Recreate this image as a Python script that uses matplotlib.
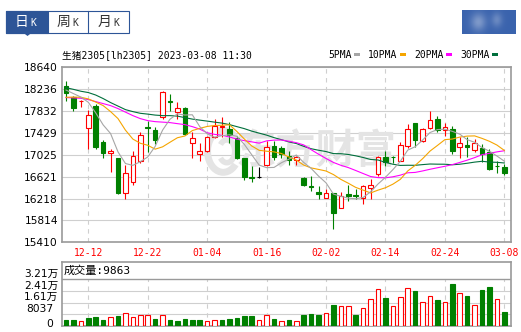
import numpy as np
import matplotlib.pyplot as plt
from matplotlib.patches import Rectangle, Polygon, Arc
from matplotlib.transforms import ScaledTranslation

# daily candles of 生猪2305
date_labels = ['12-12', '12-22', '01-04', '01-16', '02-02', '02-14', '02-24', '03-08']
date_pos = [3, 11, 19, 27, 35, 43, 51, 59]

open_ = [18303, 18087, 18009, 17513, 17933, 17254, 17064, 16958, 16318, 16514,
         16903, 17539, 17484, 17717, 18026, 17809, 17883, 17249, 17040, 17088,
         17360, 17532, 17502, 17336, 16958, 16620, 16607, 16842, 17193, 17143,
         16995, 16934, 16596, 16453, 16337, 16226, 16318, 16052, 16300, 16281,
         16226, 16403, 16670, 16990, 16990, 16916, 17193, 17606, 17286, 17521,
         17687, 17489, 17502, 17162, 17212, 17114, 17151, 17082, 16823, 16805]
high = [18396, 18118, 18039, 17854, 17965, 17299, 17132, 16970, 16842, 17101,
        17452, 17656, 17532, 18211, 18150, 17994, 17902, 17452, 17243, 17378,
        17687, 17717, 17637, 17378, 16971, 16823, 16805, 17286, 17286, 17193,
        17101, 17000, 16607, 16638, 16453, 16392, 16329, 16342, 16466, 16392,
        16472, 16577, 17008, 17101, 17008, 17254, 17595, 17619, 17514, 17841,
        17748, 17606, 17563, 17347, 17347, 17317, 17225, 17132, 16916, 16855]
low = [18013, 17828, 17915, 17132, 17132, 16958, 16699, 16300, 16207, 16472,
       16873, 17069, 17225, 17687, 17841, 17687, 17397, 16958, 16903, 17069,
       17336, 17347, 17243, 16945, 16564, 16514, 16596, 16823, 16934, 16966,
       16842, 16836, 16453, 16361, 16218, 16220, 15663, 16041, 16176, 16218,
       16126, 16218, 16625, 16823, 16866, 16903, 17151, 17175, 17254, 17502,
       17452, 17378, 17040, 16958, 16977, 17069, 16897, 16749, 16688, 16651]
close = [18161, 17891, 18022, 17761, 17162, 17051, 17088, 16329, 16688, 16995,
         17391, 17521, 17304, 18192, 18007, 17883, 17410, 17328, 17101, 17347,
         17563, 17555, 17397, 16958, 16607, 16600, 16607, 17162, 16977, 17040,
         16934, 16990, 16472, 16435, 16310, 16318, 15948, 16262, 16272, 16265,
         16440, 16466, 16990, 16884, 16977, 17206, 17502, 17299, 17502, 17669,
         17484, 17532, 17101, 17243, 17162, 17243, 17040, 16762, 16810, 16681]

ma5 = [18220, 18155, 18090, 17995, 17799, 17577, 17417, 17078, 16864, 16830,
       16898, 16985, 17180, 17481, 17683, 17781, 17759, 17764, 17546, 17414,
       17350, 17380, 17394, 17366, 17218, 17026, 16835, 16788, 16792, 16879,
       16944, 17021, 16883, 16774, 16631, 16508, 16299, 16259, 16225, 16214,
       16238, 16342, 16486, 16610, 16751, 16905, 17112, 17174, 17297, 17436,
       17491, 17497, 17458, 17406, 17304, 17256, 17158, 17090, 17003, 16907]
ma10 = [18087, 18090, 18087, 18057, 17998, 17933, 17822, 17693, 17480, 17315,
        17238, 17201, 17129, 17172, 17257, 17340, 17372, 17472, 17513, 17548,
        17566, 17570, 17579, 17456, 17316, 17188, 17108, 17091, 17079, 17048,
        16985, 16928, 16835, 16783, 16755, 16726, 16660, 16571, 16500, 16423,
        16373, 16321, 16373, 16417, 16483, 16572, 16727, 16830, 16953, 17094,
        17198, 17305, 17316, 17352, 17370, 17374, 17328, 17274, 17205, 17106]
ma20 = [18081, 18076, 18068, 18044, 18007, 17970, 17933, 17878, 17813, 17748,
        17693, 17656, 17637, 17628, 17619, 17600, 17582, 17545, 17499, 17432,
        17402, 17385, 17354, 17314, 17286, 17264, 17240, 17282, 17296, 17298,
        17275, 17249, 17207, 17119, 17035, 16957, 16884, 16831, 16789, 16735,
        16679, 16624, 16604, 16600, 16619, 16649, 16693, 16700, 16727, 16758,
        16786, 16813, 16844, 16884, 16926, 16973, 17027, 17052, 17079, 17100]
ma30 = [18264, 18233, 18198, 18174, 18128, 18063, 17989, 17924, 17859, 17822,
        17791, 17776, 17758, 17748, 17748, 17739, 17711, 17684, 17665, 17647,
        17628, 17610, 17582, 17545, 17508, 17462, 17425, 17388, 17342, 17304,
        17263, 17233, 17181, 17137, 17109, 17085, 17047, 17045, 17031, 17006,
        16975, 16939, 16929, 16885, 16851, 16829, 16832, 16831, 16844, 16855,
        16852, 16851, 16841, 16851, 16869, 16890, 16905, 16891, 16886, 16874]

volume = [4130, 4130, 3440, 5730, 6420, 4130, 5960, 6880, 8720, 5960,
          7570, 7570, 4820, 7570, 4130, 3440, 4590, 4130, 4130, 3440,
          4130, 4130, 4820, 5280, 6880, 6880, 4130, 7570, 4820, 3440,
          4130, 3440, 7570, 8260, 7570, 8720, 14450, 13760, 13760, 7570,
          12160, 18350, 25230, 19260, 13760, 19720, 25920, 24080, 16510, 20410,
          17890, 16510, 28900, 22700, 20640, 14220, 24770, 26830, 18350, 9863]

price_ticks = [15410, 15814, 16218, 16621, 17025, 17429, 17832, 18236, 18640]
vol_ticks = [0, 8037, 16074, 24111, 32148]
vol_labels = ['0', '8037', '1.61万', '2.41万', '3.21万']
ma_names = ['5PMA', '10PMA', '20PMA', '30PMA']

RED = '#ff0000'
GREEN = '#008000'
MA_COLORS = ['#a6a6a6', '#f5a500', '#ff00ff', '#006f3c']
GRID = '#cfcfcf'
BORDER = '#9a9a9a'
WMARK = '#e4e4e4'
MONO = ['DejaVu Sans Mono', 'Noto Sans CJK SC']
SANS = ['DejaVu Sans', 'Noto Sans CJK SC']

W, H = 521, 332
fig = plt.figure(figsize=(W / 100, H / 100), dpi=100)


def px_box(x0, y0, x1, y1):
    return [x0 / W, 1 - y1 / H, (x1 - x0) / W, (y1 - y0) / H]


ax = fig.add_axes(px_box(61.7, 67.3, 510.5, 242.3))
axv = fig.add_axes(px_box(61.7, 262.3, 510.5, 326))

x = np.arange(len(close))
o = np.array(open_)
c = np.array(close)
ccol = [RED if cc > oo else (GREEN if cc < oo else 'black') for oo, cc in zip(o, c)]
cfill = ['white' if cc > oo else col for oo, cc, col in zip(o, c, ccol)]

# price panel
ax.vlines(x, low, high, colors=ccol, lw=0.8, zorder=3)
ax.bar(x, np.abs(c - o), bottom=np.minimum(o, c), width=0.62, color=cfill,
       edgecolor=ccol, lw=0.8, zorder=4)
for ma, col in zip([ma30, ma20, ma10, ma5], MA_COLORS[::-1]):
    ax.plot(x, ma, color=col, lw=0.8, zorder=5)

# faint watermark behind the candles
ax.text(0.566, 0.515, '东方财富', transform=ax.transAxes, fontsize=29,
        color=WMARK, family='Noto Sans CJK SC', fontweight='bold',
        ha='center', va='center', zorder=1)
ax.add_patch(Arc((0.36, 0.52), 0.07, 0.24, theta1=70, theta2=290,
                 transform=ax.transAxes, color=WMARK, lw=5, zorder=1))
ax.add_patch(Arc((0.368, 0.52), 0.035, 0.13, theta1=250, theta2=110,
                 transform=ax.transAxes, color=WMARK, lw=4, zorder=1))

ax.set_xlim(-0.58, 59.83)
ax.set_ylim(15410, 18640)
ax.set_yticks(price_ticks)
ax.set_yticklabels([str(t) for t in price_ticks], fontsize=7.7, family='DejaVu Sans')
ax.set_xticks(date_pos)
ax.set_xticklabels(date_labels, fontsize=7, family='DejaVu Sans Mono', color=RED)
ax.tick_params(length=0, pad=2.6)
ax.tick_params(axis='x', pad=4)
ax.grid(axis='y', color=GRID, lw=0.8, zorder=0)
ax.grid(axis='x', color=GRID, lw=0.8, ls=(0, (4, 4)), zorder=0)
ax.set_axisbelow(True)
for s in ax.spines.values():
    s.set_color(BORDER)
    s.set_linewidth(1.2)

# volume panel
vcol = [GREEN if c[0] < o[0] else RED] + [RED if b > a else GREEN for a, b in zip(c[:-1], c[1:])]
vfill = ['white' if col == RED else col for col in vcol]
axv.bar(x, volume, width=0.62, color=vfill, edgecolor=vcol, lw=0.8, zorder=3)
axv.set_xlim(-0.58, 59.83)
axv.set_ylim(0, 43850)
axv.set_xticks([])
axv.set_yticks([])
axv.hlines(vol_ticks[1:4], -1, 61, colors=GRID, lw=0.8, zorder=1)
axv.hlines(vol_ticks[4], -1, 61, colors=BORDER, lw=1.0, zorder=2)
axv.vlines(date_pos, 0, vol_ticks[4], colors=GRID, lw=0.8, linestyles=(0, (4, 4)), zorder=1)
for s in axv.spines.values():
    s.set_color(BORDER)
    s.set_linewidth(1.2)
for val, lab in zip(vol_ticks, vol_labels):
    dy = 1.7 if val == 0 else 5.5
    xr = -0.0082 if '万' in lab else -0.019
    tr = axv.get_yaxis_transform() + ScaledTranslation(0, dy / 100, fig.dpi_scale_trans)
    axv.text(xr, val, lab, transform=tr, ha='right', va='center', fontsize=7.7, family=SANS)
axv.text(0.005, 0.87, '成交量:%d' % volume[-1], transform=axv.transAxes,
         fontsize=8, family=MONO, va='center', ha='left')

# header overlay in pixel coordinates
ov = fig.add_axes([0, 0, 1, 1])
ov.set_xlim(0, W)
ov.set_ylim(H, 0)
ov.axis('off')

ov.text(61.7, 55, '生猪2305[lh2305] 2023-03-08 11:30', fontsize=7, family=MONO,
        va='center', ha='left')

lx = [328, 368, 414, 460]
for name, col, x0 in zip(ma_names, MA_COLORS, lx):
    ov.text(x0, 55, name, fontsize=7, family=MONO, va='center', ha='left')
    sw = x0 + 5.85 * len(name) + 3
    ov.add_patch(Rectangle((sw, 53.4), 5.5, 3, color=col, lw=0))

# 日K / 周K / 月K tabs
BLUE = '#2d5597'
ov.add_patch(Rectangle((6, 11), 123, 21.5, facecolor='white', edgecolor=BLUE, lw=0.8))
ov.add_patch(Rectangle((6, 11), 42, 21.5, facecolor=BLUE, edgecolor=BLUE, lw=0.8))
ov.plot([88, 88], [11, 32.5], color=BLUE, lw=0.8)
ov.add_patch(Polygon([(23, 32.5), (32, 32.5), (27.5, 36)], color=BLUE, lw=0))
for cx, ch, tc in [(21.5, '日', 'white'), (63.5, '周', '#333333'), (104.5, '月', '#333333')]:
    ov.text(cx, 21.7, ch, fontsize=10, family='Noto Sans CJK SC', color=tc,
            ha='center', va='center')
    ov.text(cx + 11.5, 23.5, 'K', fontsize=7, family='DejaVu Sans Mono', color=tc,
            ha='center', va='center')

# blurred blue button in the top right corner
gx, gy = np.meshgrid(np.linspace(0, 1, 40), np.linspace(0, 1, 16))
light = 0.35 * np.exp(-((gx - 0.3) ** 2) / 0.02 - ((gy - 0.5) ** 2) / 0.15) \
    + 0.25 * np.exp(-((gx - 0.65) ** 2) / 0.01 - ((gy - 0.4) ** 2) / 0.1)
base = np.array([0.23, 0.39, 0.68])
img = base[None, None, :] * (1 - light[..., None]) + light[..., None]
ov.imshow(img, extent=(462, 516, 34, 10), aspect='auto', interpolation='bicubic')
ov.set_xlim(0, W)
ov.set_ylim(H, 0)

fig.savefig('out.png', dpi=100)
